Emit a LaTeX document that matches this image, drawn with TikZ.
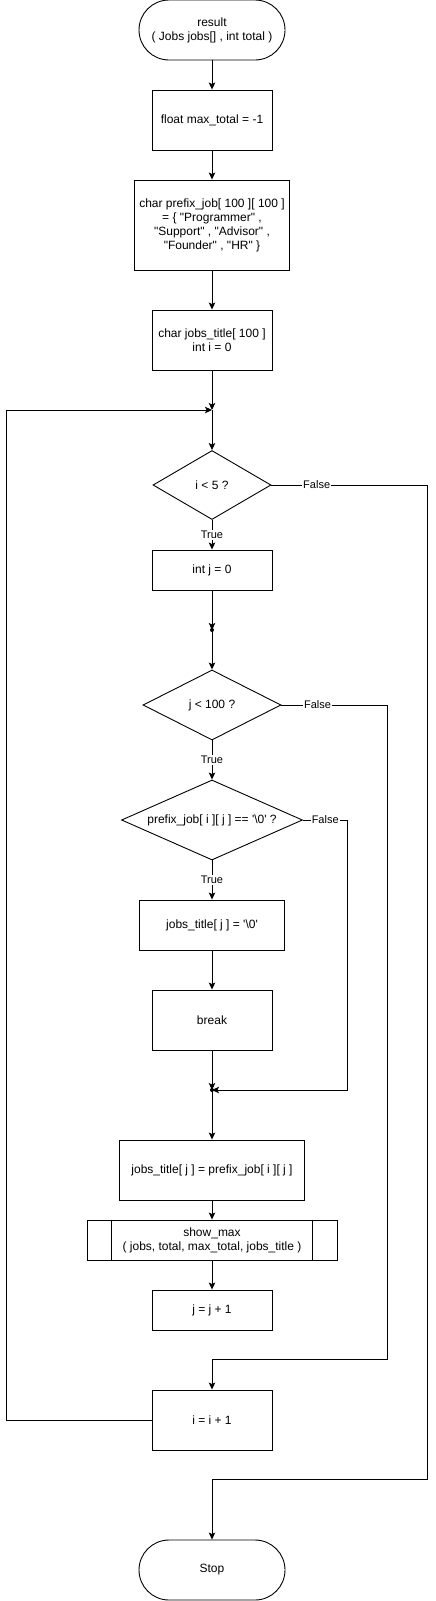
\documentclass[tikz,border=0pt]{standalone}
\usepackage{fontspec}
\setmainfont{Liberation Sans}[Ligatures=TeXOff]
\usetikzlibrary{shapes.geometric,positioning,arrows.meta}

\begin{document}
\begin{tikzpicture}[x=1pt,y=1pt,node distance=60pt,on grid,line width=0.9pt,
        >={Stealth[length=7pt,width=6.5pt,inset=1.5pt]},
        every node/.style={font=\fontsize{12}{14}\selectfont},
        box/.style={draw,rectangle,align=center,minimum width=120pt,minimum height=60pt,inner sep=1pt},
        term/.style={draw,rectangle,rounded corners=30pt,align=center,minimum width=146pt,minimum height=60pt},
        cond/.style={draw,diamond,align=center,inner sep=0pt,aspect=2.2},
        lbl/.style={fill=white,inner sep=1pt,font=\fontsize{11}{13}\selectfont},
        dot/.style={fill,circle,inner sep=0pt,minimum size=4pt}]
        \useasboundingbox (0,0) rectangle (436,-1601);
        \node[term] (start) at (212,-30) {result\\( Jobs jobs[] , int total )};
        \node[box] (maxt) [below=90pt of start] {float max\_total = -1};
        \node[box,minimum width=155pt,minimum height=90pt] (pref) [below=105pt of maxt] {char prefix\_job[ 100 ][ 100 ]\\= \{ "Programmer" ,\\"Support" , "Advisor" ,\\"Founder" , "HR" \}};
        \node[box] (titl) [below=115pt of pref] {char jobs\_title[ 100 ]\\int i = 0};
        \coordinate[below=70pt of titl] (j1);
        \node[cond,minimum width=118pt,minimum height=69pt] (ilt) [below=145pt of titl] {i < 5 ?};
        \node[box,minimum height=40pt] (intj) [below=85pt of ilt] {int j = 0};
        \coordinate[below=60pt of intj] (j2);
        \node[cond,minimum width=138pt,minimum height=70pt] (jlt) [below=135pt of intj] {j < 100 ?};
        \node[cond,minimum width=181pt,minimum height=80pt] (pdia) [below=115pt of jlt] {prefix\_job[ i ][ j ] == '\textbackslash 0' ?};
        \node[box,minimum width=145pt,minimum height=50pt] (zero) [below=105pt of pdia] {jobs\_title[ j ] = '\textbackslash 0'};
        \node[box] (brk) [below=95pt of zero] {break};
        \coordinate[below=70pt of brk] (j3);
        \node[box,minimum width=185pt] (copy) [below=150pt of brk] {jobs\_title[ j ] = prefix\_job[ i ][ j ]};
        \node[box,minimum width=250pt,minimum height=40pt] (show) [below=70pt of copy] {show\_max\\( jobs, total, max\_total, jobs\_title )};
        \draw ([xshift=25pt]show.north west) -- ([xshift=25pt]show.south west)
              ([xshift=-25pt]show.north east) -- ([xshift=-25pt]show.south east);
        \node[box,minimum height=40pt] (jinc) [below=70pt of show] {j = j + 1};
        \node[box] (iinc) [below=110pt of jinc] {i = i + 1};
        \node[term] (stop) [below=150pt of iinc] {Stop};
        \node[dot] (d2) at (j2) {};
        \node[dot] (d3) at (j3) {};
        \path[->]
        (start) edge (maxt)
        (maxt) edge (pref)
        (pref) edge (titl)
        (titl) edge (j1)
        (j1) edge (ilt)
        (ilt) edge node[lbl] {True} (intj)
        (intj) edge (j2)
        (j2) edge (jlt)
        (jlt) edge node[lbl] {True} (pdia)
        (pdia) edge node[lbl] {True} (zero)
        (zero) edge (brk)
        (brk) edge (j3)
        (j3) edge (copy)
        (copy) edge (show)
        (show) edge (jinc);
        \draw[->] (iinc.west) -- ++(-145,0) |- (j1);
        \draw[->] (ilt.east) -- node[lbl,pos=0.29] {False} ++(156,0) |- ([yshift=60pt]stop.north) -- (stop.north);
        \draw[->] (jlt.east) -- node[lbl,pos=0.34] {False} ++(106,0) |- ([yshift=30pt]iinc.north) -- (iinc.north);
        \draw[->] (pdia.east) -- node[lbl,pos=0.5] {False} ++(44.5,0) |- (j3);
    \end{tikzpicture}
\end{document}
